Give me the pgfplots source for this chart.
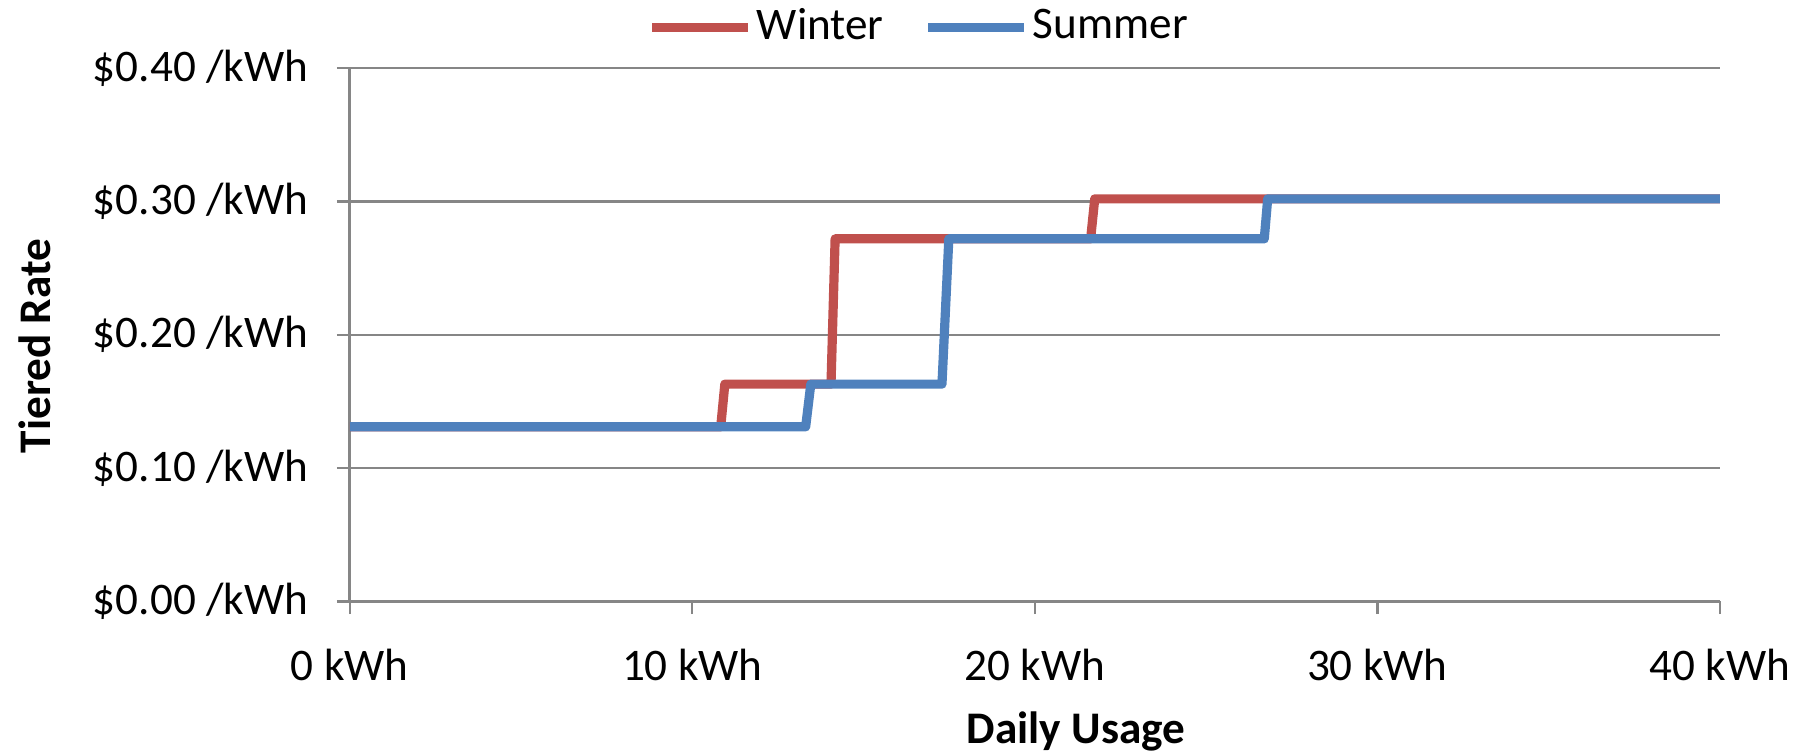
\documentclass[border=0pt]{standalone}
\usepackage{pgfplots}
\pgfplotsset{compat=1.18}
\usepackage{fontspec}
\setmainfont{Carlito}
\definecolor{winter}{HTML}{C0504D}
\definecolor{summer}{HTML}{4F81BD}
\definecolor{gridgray}{HTML}{868686}
\begin{document}
\fontsize{11.3}{13.5}\selectfont
\begin{tikzpicture}
\useasboundingbox (-87.45pt,-37.9pt) rectangle (365.05pt,150.35pt);
\begin{axis}[
  at={(0,0)}, anchor=south west,
  scale only axis, width=342.5pt, height=133.3pt,
  xmin=0, xmax=40, ymin=0, ymax=0.4,
  axis x line*=bottom, axis y line*=left,
  axis line style={gridgray, line width=0.7pt, -},
  xtick={0,10,20,30,40},
  xticklabels={0 kWh,10 kWh,20 kWh,30 kWh,40 kWh},
  ytick={0,0.1,0.2,0.3,0.4},
  yticklabels={\$0.00 /kWh,\$0.10 /kWh,\$0.20 /kWh,\$0.30 /kWh,\$0.40 /kWh},
  tick align=outside, major tick length=3.2pt,
  tick style={gridgray, line width=0.6pt},
  ymajorgrids, major grid style={gridgray, line width=0.6pt},
  /pgf/number format/assume math mode=true,
  tick label style={font=\fontsize{11.3}{13.5}\selectfont},
  xticklabel style={anchor=north, inner sep=0pt, yshift=-8.6pt},
  yticklabel style={anchor=east, inner sep=0pt, xshift=-7pt},
  xlabel={\bfseries Daily Usage},
  ylabel={\bfseries Tiered Rate},
  label style={font=\fontsize{11.3}{13.5}\selectfont\bfseries},
  xlabel style={at={(axis description cs:0.530,0)}, anchor=center, yshift=-32.4pt},
  ylabel style={at={(axis description cs:0,0.479)}, anchor=center, yshift=78.8pt},
  legend columns=2,
  legend style={draw=none, fill=none, at={(axis description cs:0.416,1.076)}, anchor=center,
    font=\fontsize{11.3}{13.5}\selectfont, inner sep=0pt,
    nodes={inner sep=1pt},
    /tikz/every even column/.append style={column sep=9pt}},
  legend image code/.code={\draw[#1] (0pt,0pt) -- (24pt,0pt);},
  clip=false,
]
\addplot[winter, line width=2.3pt, line join=round] coordinates {
  (0,0.131) (10.83,0.131) (10.95,0.163) (14.05,0.163) (14.17,0.272)
  (21.63,0.272) (21.75,0.302) (40,0.302)};
\addlegendentry{Winter}
\addplot[summer, line width=2.3pt, line join=round] coordinates {
  (0,0.131) (13.31,0.131) (13.46,0.163) (17.29,0.163) (17.49,0.272)
  (26.70,0.272) (26.80,0.302) (40,0.302)};
\addlegendentry{Summer}
\end{axis}
\end{tikzpicture}
\end{document}
